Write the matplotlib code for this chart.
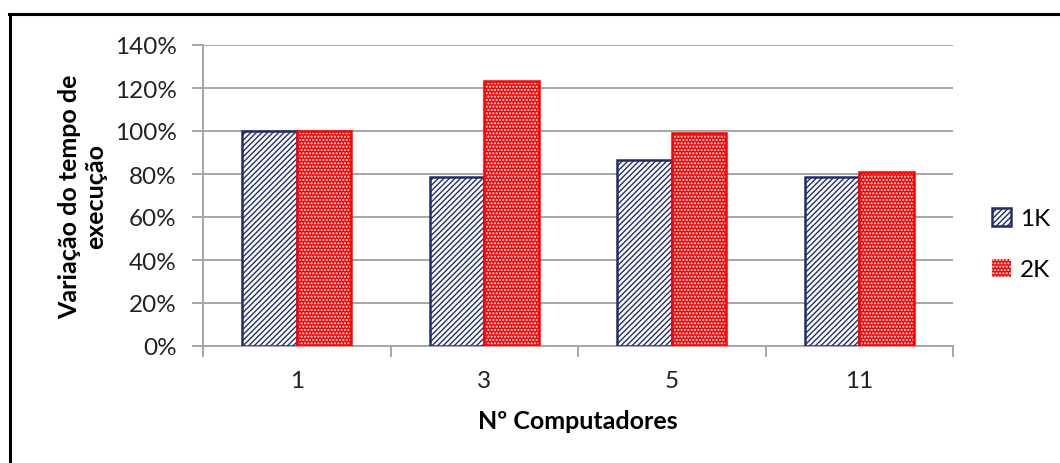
import matplotlib
matplotlib.use("Agg")
import matplotlib.pyplot as plt
from matplotlib.lines import Line2D
from matplotlib.patches import Patch
from matplotlib.ticker import FuncFormatter, FixedLocator
import numpy as np

plt.rcParams['font.family'] = ['Lato', 'DejaVu Sans']
plt.rcParams['hatch.linewidth'] = 1.0

categories = ["1", "3", "5", "11"]
series_1k = [100.0, 78.6, 86.3, 78.5]
series_2k = [100.0, 123.3, 99.2, 81.0]
series_names = ["1K", "2K"]
y_ticks = [0, 20, 40, 60, 80, 100, 120, 140]

navy = "#1f2d6e"
red = "#ff0000"
grid_gray = "#a6a6a6"
text_color = "#222222"

fig = plt.figure(figsize=(10.6, 4.64), dpi=100)
ax = fig.add_axes([203 / 1060, 1 - 347 / 464, 750 / 1060, 301 / 464])

x = np.arange(len(categories))
w = 0.29

# 1K: white bars with navy diagonal hatching
ax.bar(x - w / 2, series_1k, width=w, facecolor="white", edgecolor=navy,
       hatch="//////", linewidth=1.8, zorder=3)
# 2K: red fill with a white dotted pattern, then a red outline
ax.bar(x + w / 2, series_2k, width=w, facecolor=red, edgecolor="white",
       hatch=".....", linewidth=0, zorder=3)
ax.bar(x + w / 2, series_2k, width=w, facecolor="none", edgecolor=red,
       linewidth=1.8, zorder=4)

ax.set_xlim(-0.5, len(categories) - 0.5)
ax.set_ylim(0, 140)
ax.yaxis.set_major_locator(FixedLocator(y_ticks))
ax.yaxis.set_major_formatter(FuncFormatter(lambda v, p: f"{v:.0f}%"))
ax.grid(axis="y", color=grid_gray, linewidth=1.4, zorder=0)

ax.set_xticks(x)
ax.set_xticklabels(categories)
ax.xaxis.set_minor_locator(FixedLocator(np.arange(-0.5, len(categories), 1.0)))
ax.tick_params(axis="x", which="major", length=0, pad=17, labelsize=17.5, colors=text_color)
ax.tick_params(axis="x", which="minor", length=8, width=1.4, color=grid_gray, direction="out")
ax.tick_params(axis="y", length=8, width=1.4, color=grid_gray, labelsize=17.5,
               labelcolor=text_color, pad=11)

for side in ("top", "right"):
    ax.spines[side].set_visible(False)
for side in ("left", "bottom"):
    ax.spines[side].set_color(grid_gray)
    ax.spines[side].set_linewidth(1.4)

ax.set_ylabel("Variação do tempo de\nexecução", fontsize=18, fontweight="bold",
              linespacing=1.15, color="black")
ax.yaxis.set_label_coords(-0.128, 0.5)
ax.set_xlabel("Nº Computadores", fontsize=18, fontweight="bold", color="black")
ax.xaxis.set_label_coords(0.5, -0.21)

handles = [
    Patch(facecolor="white", edgecolor=navy, hatch="//////", linewidth=1.8),
    Patch(facecolor=red, edgecolor="white", hatch=".....", linewidth=0),
]
leg = fig.legend(handles, series_names, loc="center left",
                 bbox_to_anchor=(992 / 1060, 1 - 245 / 464), frameon=False,
                 fontsize=17.5, handlelength=0.8, handleheight=0.8,
                 handletextpad=0.35, labelspacing=1.2, borderpad=0,
                 borderaxespad=0)

# figure frame along the top and left edges
fig.add_artist(Line2D([9 / 1060, 1.0], [1 - 15 / 464, 1 - 15 / 464],
                      color="black", linewidth=2.2, transform=fig.transFigure))
fig.add_artist(Line2D([10 / 1060, 10 / 1060], [0.0, 1 - 15 / 464],
                      color="black", linewidth=2.2, transform=fig.transFigure))

fig.savefig("out.png", dpi=100)
